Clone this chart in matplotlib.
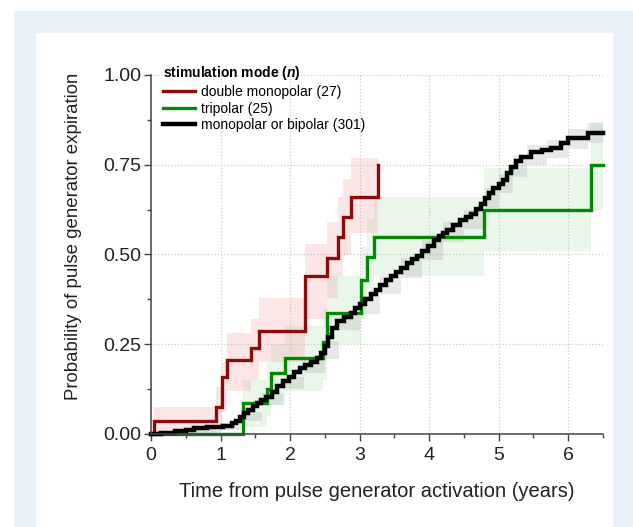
import matplotlib
matplotlib.use("Agg")
import matplotlib.pyplot as plt
from matplotlib.patches import Rectangle
from matplotlib.ticker import MultipleLocator, FormatStrFormatter

plt.rcParams['font.family'] = ['Liberation Sans', 'DejaVu Sans']
plt.rcParams['mathtext.fontset'] = 'custom'
plt.rcParams['mathtext.it'] = 'Liberation Sans:style=italic:weight=bold'

# double monopolar (27)
red_t = [0, 0.04, 0.94, 1.02, 1.09, 1.44, 1.55, 2.21, 2.53, 2.69, 2.76, 2.88, 3.26]
red_s = [0, 0.037, 0.074, 0.16, 0.206, 0.24, 0.287, 0.44, 0.491, 0.55, 0.604, 0.661, 0.749]
red_lo = [0, 0.005, 0.02, 0.06, 0.12, 0.15, 0.2, 0.32, 0.38, 0.44, 0.5, 0.56, 0.56]
red_hi = [0, 0.075, 0.13, 0.2, 0.28, 0.32, 0.38, 0.53, 0.59, 0.66, 0.71, 0.77, 0.77]

# tripolar (25)
green_t = [0, 1.33, 1.67, 1.72, 1.93, 2.48, 2.53, 3.02, 3.1, 3.2, 4.79, 6.33, 6.5]
green_s = [0, 0.087, 0.125, 0.171, 0.213, 0.255, 0.338, 0.43, 0.494, 0.55, 0.624, 0.749, 0.749]
green_lo = [0, 0.02, 0.05, 0.08, 0.12, 0.15, 0.25, 0.32, 0.38, 0.44, 0.51, 0.62, 0.62]
green_hi = [0, 0.15, 0.2, 0.25, 0.3, 0.35, 0.44, 0.52, 0.6, 0.66, 0.74, 0.87, 0.87]

# monopolar or bipolar (301)
black_t = [0.0, 0.15, 0.35, 0.5, 0.62, 0.8, 1.04, 1.16, 1.22, 1.28, 1.34, 1.4, 1.46, 1.52,
           1.58, 1.66, 1.74, 1.81, 1.9, 1.98, 2.05, 2.14, 2.22, 2.3, 2.38, 2.44, 2.5, 2.55,
           2.6, 2.68, 2.78, 2.87, 2.94, 3.01, 3.08, 3.16, 3.23, 3.3, 3.38, 3.45, 3.52, 3.6,
           3.68, 3.76, 3.83, 3.9, 3.98, 4.07, 4.14, 4.2, 4.26, 4.35, 4.45, 4.53, 4.6, 4.68,
           4.75, 4.8, 4.86, 4.92, 5.0, 5.06, 5.12, 5.18, 5.25, 5.32, 5.46, 5.62, 5.75, 5.89,
           5.99, 6.28, 6.5]
black_s = [0, 0.003, 0.007, 0.011, 0.018, 0.02, 0.023, 0.03, 0.037, 0.046, 0.058, 0.068, 0.078,
           0.086, 0.094, 0.103, 0.118, 0.135, 0.148, 0.16, 0.172, 0.183, 0.192, 0.201, 0.212,
           0.225, 0.245, 0.27, 0.296, 0.315, 0.325, 0.336, 0.35, 0.363, 0.376, 0.39, 0.402,
           0.415, 0.428, 0.44, 0.452, 0.462, 0.475, 0.488, 0.497, 0.51, 0.524, 0.54, 0.552,
           0.56, 0.568, 0.582, 0.596, 0.605, 0.614, 0.628, 0.642, 0.658, 0.672, 0.684, 0.695,
           0.708, 0.726, 0.745, 0.76, 0.772, 0.786, 0.79, 0.797, 0.81, 0.824, 0.838, 0.838]
black_band_t = [0, 0.5, 1.0, 1.3, 1.6, 1.9, 2.2, 2.5, 2.7, 3.0, 3.3, 3.6, 3.9, 4.2, 4.5, 4.8,
                5.0, 5.2, 5.4, 5.7, 6.0, 6.28, 6.5]
black_lo = [0, 0.003, 0.012, 0.035, 0.08, 0.125, 0.17, 0.21, 0.29, 0.335, 0.39, 0.435, 0.485,
            0.535, 0.57, 0.63, 0.67, 0.715, 0.75, 0.77, 0.795, 0.81, 0.81]
black_hi = [0.006, 0.018, 0.032, 0.06, 0.115, 0.16, 0.21, 0.26, 0.33, 0.385, 0.44, 0.49,
            0.54, 0.59, 0.625, 0.685, 0.725, 0.775, 0.805, 0.82, 0.85, 0.865, 0.865]

fig = plt.figure(figsize=(6.33, 5.27), dpi=100)
fig.patches.append(Rectangle((14/633, 0), 619/633, 516/527, transform=fig.transFigure,
                             color='#e8f1fa', zorder=-10))
fig.patches.append(Rectangle((36/633, 0), 576/633, 494/527, transform=fig.transFigure,
                             color='white', zorder=-9))

ax = fig.add_axes([151/633, 93/527, 452/633, 359/527])
ax.patch.set_alpha(0)

ax.fill_between(green_t, green_lo, green_hi, step='post', color='#90d090', alpha=0.18, lw=0)
ax.fill_between(red_t, red_lo, red_hi, step='post', color='#f08080', alpha=0.2, lw=0)
ax.fill_between(black_band_t, black_lo, black_hi, step='post', color='#909090', alpha=0.2, lw=0)

l2, = ax.step(green_t, green_s, where='post', color='#008a00', lw=2.4, clip_on=False,
              solid_joinstyle='miter')
l1, = ax.step(red_t, red_s, where='post', color='#8c0a0a', lw=2.4, clip_on=False,
              solid_joinstyle='miter')
l3, = ax.step(black_t, black_s, where='post', color='black', lw=3.2, clip_on=False,
              solid_joinstyle='miter')

ax.set_xlim(0, 6.5)
ax.set_ylim(0, 1.0)
ax.xaxis.set_major_locator(MultipleLocator(1))
ax.xaxis.set_minor_locator(MultipleLocator(0.5))
ax.yaxis.set_major_locator(MultipleLocator(0.25))
ax.yaxis.set_minor_locator(MultipleLocator(0.125))
ax.yaxis.set_major_formatter(FormatStrFormatter('%.2f'))

for s in ['top', 'right']:
    ax.spines[s].set_visible(False)
for s in ['left', 'bottom']:
    ax.spines[s].set_color('#444444')
    ax.spines[s].set_linewidth(1.1)
ax.tick_params(which='major', direction='out', length=5, width=1, color='#444444',
               labelsize=14, labelcolor='#222222')
ax.tick_params(axis='x', which='major', pad=4)
ax.tick_params(axis='y', which='major', pad=2)
ax.tick_params(which='minor', direction='out', length=3, width=1, color='#444444')
ax.grid(which='major', linestyle=':', color='#cccccc', lw=0.9)
ax.set_axisbelow(True)

ax.set_xlabel('Time from pulse generator activation (years)', fontsize=14.5, color='#222222', labelpad=13)
ax.set_ylabel('Probability of pulse generator expiration', fontsize=13.4, color='#222222')
ax.yaxis.set_label_coords(-0.152, 0.55)

leg = ax.legend([l1, l2, l3], ['double monopolar (27)', 'tripolar (25)', 'monopolar or bipolar (301)'],
                title=r'stimulation mode ($\it{n}$)', loc='upper left',
                bbox_to_anchor=(0.012, 1.05), frameon=False, fontsize=10,
                handlelength=2.3, handletextpad=0.4, borderpad=0, labelspacing=0.2,
                alignment='left')
leg.get_title().set_fontweight('bold')
leg.get_title().set_fontsize(10)

fig.savefig('out.png', dpi=100)
